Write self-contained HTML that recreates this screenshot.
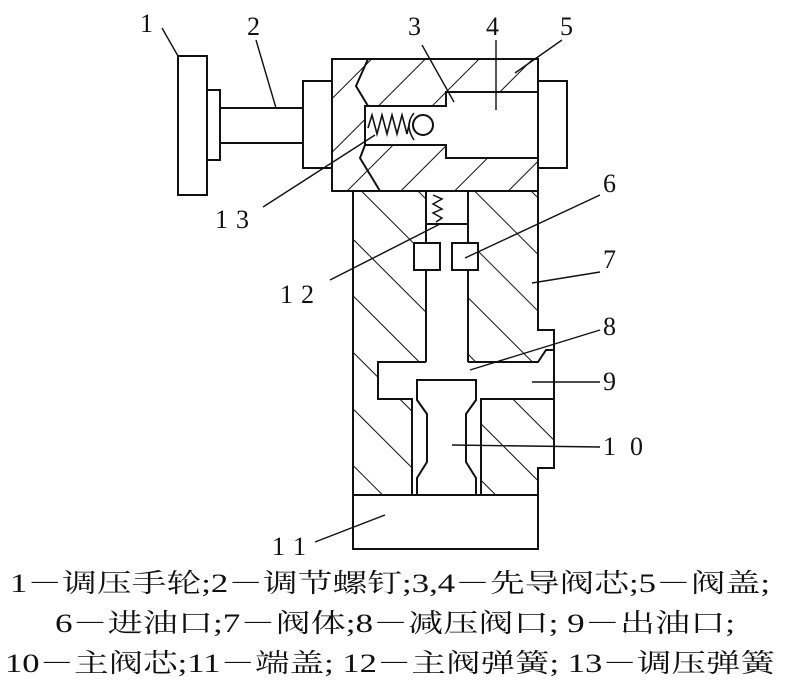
<!DOCTYPE html>
<html><head><meta charset="utf-8"><style>
html,body{margin:0;padding:0;background:#fff;}
svg{display:block;}
text{font-family:"Liberation Serif","Noto Serif CJK SC",serif;fill:#111;}
</style></head><body>
<svg width="789" height="690" viewBox="0 0 789 690" xmlns="http://www.w3.org/2000/svg">
<defs>
<pattern id="h1" patternUnits="userSpaceOnUse" width="38" height="38" patternTransform="rotate(45)">
<line x1="0" y1="0" x2="0" y2="38" stroke="#111" stroke-width="2"/></pattern>
<pattern id="h2" patternUnits="userSpaceOnUse" width="40" height="40" patternTransform="rotate(-45)">
<line x1="0" y1="0" x2="0" y2="40" stroke="#111" stroke-width="2"/></pattern>
</defs>
<g stroke="#111" stroke-width="2" fill="none">
<rect x="178" y="56" width="29" height="139" fill="#fff"/>
<rect x="207" y="90" width="13" height="70" fill="#fff"/>
<rect x="220" y="108" width="83" height="35" fill="#fff"/>
<rect x="303" y="81" width="29" height="87" fill="#fff"/>
<rect x="538" y="81" width="29" height="87" fill="#fff"/>
<rect x="332" y="59" width="206" height="132" fill="url(#h1)"/>
<path d="M365,106 L446,106 L446,92 L538,92 L538,158 L446,158 L446,145 L365,145 Z" fill="#fff"/>
<rect x="332" y="59" width="206" height="132"/>
<polyline points="368,59 356,86 368,106"/>
<polyline points="365,145 360,158 380,191"/>
<polyline points="368,128 372,115 377,134 382,115 387,134 392,115 397,134 402,115 407,134 410,120" stroke-width="1.6"/>
<circle cx="423" cy="125" r="10"/>
<path d="M414,113 Q404,125 414,140" stroke-width="1.5"/>
<path d="M353,191 L538,191 L538,330 L554,330 L554,468 L538,468 L538,495 L353,495 Z" fill="url(#h2)"/>
<rect x="426" y="191" width="42" height="171" fill="#fff" stroke="none"/>
<rect x="378" y="362" width="176" height="37" fill="#fff" stroke="none"/>
<rect x="412" y="399" width="69" height="96" fill="#fff" stroke="none"/>
<path d="M353,191 L538,191 L538,330 L554,330 L554,468 L538,468 L538,495 L353,495 Z"/>
<path d="M426,191 L426,224 L468,224 L468,191"/>
<line x1="426" y1="224" x2="426" y2="362"/>
<line x1="468" y1="224" x2="468" y2="362"/>
<path d="M426,362 L378,362 L378,399 L412,399 L412,495"/>
<path d="M468,362 L538,362 L546,350 L554,350"/>
<path d="M481,495 L481,399 L554,399"/>
<polyline points="433,195 442,199 433,204 442,209 433,213 442,218 436,222" stroke-width="1.5"/>
<rect x="414" y="243" width="26" height="27" fill="#fff"/>
<rect x="452" y="243" width="26" height="27" fill="#fff"/>
<polygon points="417,380 476,380 476,400 466,414 466,462 476,478 476,495 417,495 417,478 427,462 427,414 417,400" fill="#fff"/>
<rect x="353" y="495" width="185" height="54" fill="#fff"/>
<g stroke-width="1.4">
<line x1="162" y1="28" x2="178" y2="56"/>
<line x1="256" y1="40" x2="276" y2="108"/>
<line x1="422" y1="45" x2="454" y2="102"/>
<line x1="496" y1="40" x2="496" y2="110"/>
<line x1="562" y1="40" x2="515" y2="73"/>
<line x1="263" y1="207" x2="375" y2="135"/>
<line x1="600" y1="195" x2="465" y2="258"/>
<line x1="600" y1="272" x2="532" y2="283"/>
<line x1="600" y1="330" x2="470" y2="370"/>
<line x1="600" y1="382" x2="532" y2="382"/>
<line x1="600" y1="447" x2="452" y2="445"/>
<line x1="315" y1="542" x2="385" y2="515"/>
<line x1="330" y1="280" x2="440" y2="224"/>
</g>
</g>
<g font-size="26">
<text x="140" y="32">1</text>
<text x="247" y="35">2</text>
<text x="408" y="35">3</text>
<text x="486" y="35">4</text>
<text x="560" y="35">5</text>
<text x="215" y="228" textLength="34">13</text>
<text x="603" y="192">6</text>
<text x="603" y="268">7</text>
<text x="280" y="303" textLength="34">12</text>
<text x="603" y="335">8</text>
<text x="603" y="390">9</text>
<text x="603" y="455" textLength="40">10</text>
<text x="272" y="555" textLength="34">11</text>
</g>
<g font-size="26">
<text x="10" y="592" textLength="760" lengthAdjust="spacingAndGlyphs">1－调压手轮;2－调节螺钉;3,4－先导阀芯;5－阀盖;</text>
<text x="55" y="632" textLength="680" lengthAdjust="spacingAndGlyphs">6－进油口;7－阀体;8－减压阀口; 9－出油口;</text>
<text x="5" y="672" textLength="770" lengthAdjust="spacingAndGlyphs">10－主阀芯;11－端盖; 12－主阀弹簧; 13－调压弹簧</text>
</g>
</svg>
</body></html>
